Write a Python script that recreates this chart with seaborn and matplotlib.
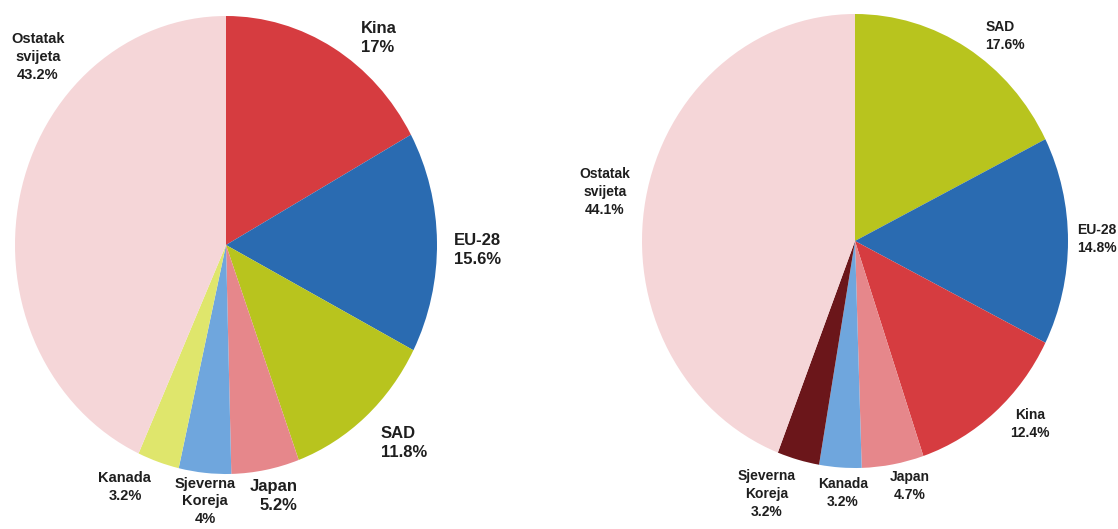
import matplotlib
matplotlib.use("Agg")
import matplotlib.pyplot as plt
import seaborn as sns

# Data
left_labels = ["Kina", "EU-28", "SAD", "Japan", "Sjeverna\nKoreja", "Kanada", "Ostatak\nsvijeta"]
left_values = [17.0, 15.6, 11.8, 5.2, 4.0, 3.2, 43.2]
left_pct = ["17%", "15.6%", "11.8%", "5.2%", "4%", "3.2%", "43.2%"]

right_labels = ["SAD", "EU-28", "Kina", "Japan", "Kanada", "Sjeverna\nKoreja", "Ostatak\nsvijeta"]
right_values = [17.6, 14.8, 12.4, 4.7, 3.2, 3.2, 44.1]
right_pct = ["17.6%", "14.8%", "12.4%", "4.7%", "3.2%", "3.2%", "44.1%"]

# colours
red = "#D63C40"
blue = "#2A6BB1"
olive = "#B8C41E"
pink = "#E6878B"
lightblue = "#6FA6DD"
yellow = "#DFE66C"
rest = "#F5D6D8"
darkred = "#6B161A"

left_colors = [red, blue, olive, pink, lightblue, yellow, rest]
right_colors = [olive, blue, red, pink, lightblue, darkred, rest]

# label placement (in pie radius units) and text style
left_layout = [
    (0.725, 0.904, "left", 12), (1.194, -0.022, "left", 12),
    (0.844, -0.865, "left", 12), (0.227, -1.096, "right", 12),
    (-0.10, -1.12, "center", 10.5), (-0.479, -1.057, "center", 10.5),
    (-0.891, 0.821, "center", 10.5),
]
right_layout = [
    (0.704, 0.903, "left", 10), (1.136, 0.009, "left", 10),
    (0.822, -0.806, "center", 10), (0.258, -1.079, "center", 10),
    (-0.056, -1.11, "center", 10), (-0.413, -1.115, "center", 10),
    (-1.174, 0.216, "center", 10),
]

sns.set_theme(style="white")
plt.rcParams["font.family"] = ["Liberation Sans", "DejaVu Sans"]

W, H = 1118, 529
fig = plt.figure(figsize=(W / 100, H / 100), dpi=100)


def draw_pie(rect, values, colors, labels, pct, layout):
    ax = fig.add_axes(rect)
    ax.pie(values, colors=colors, startangle=90, counterclock=False,
           radius=1, wedgeprops=dict(linewidth=0))
    ax.set_aspect("auto")
    ax.set_xlim(-1, 1)
    ax.set_ylim(-1, 1)
    ax.axis("off")
    for lab, p, (x, y, al, fs) in zip(labels, pct, layout):
        ax.text(x, y, lab + "\n" + p, ha="center", va="center",
                multialignment=al, fontsize=fs, fontweight="bold",
                color="#1e1e1e", linespacing=1.35, clip_on=False)
    return ax


# left pie: centre (226,245), rx 211, ry 229
draw_pie([15 / W, (H - 245 - 229) / H, 422 / W, 458 / H],
         left_values, left_colors, left_labels, left_pct, left_layout)
# right pie: centre (855,241), rx 213, ry 227
draw_pie([642 / W, (H - 241 - 227) / H, 426 / W, 454 / H],
         right_values, right_colors, right_labels, right_pct, right_layout)

fig.savefig("out.png", dpi=100, facecolor="white")
